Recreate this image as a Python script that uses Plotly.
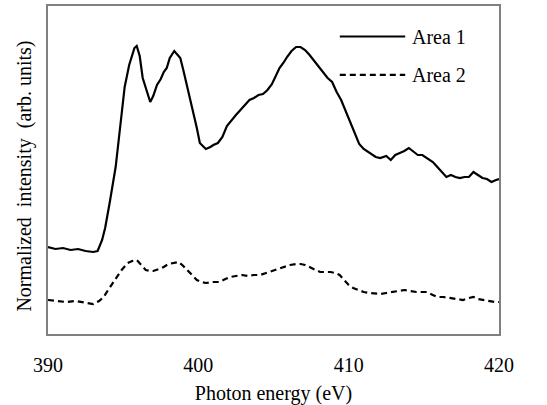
import plotly.graph_objects as go

# Photon energy (eV) and normalized intensity (arb. units)
energy_1 = [390.0, 390.5, 391.0, 391.5, 392.0, 392.5, 393.0, 393.3, 393.6, 393.8,
            394.1, 394.5, 394.8, 395.1, 395.4, 395.6, 395.75, 395.9, 396.1, 396.3,
            396.5, 396.8, 397.0, 397.25, 397.5, 397.7, 397.9, 398.1, 398.4, 398.6,
            398.8, 399.0, 399.2, 399.5, 399.7, 399.9, 400.1, 400.3, 400.5, 400.8,
            401.0, 401.3, 401.6, 401.9, 402.2, 402.5, 402.8, 403.1, 403.4, 403.7,
            404.0, 404.3, 404.6, 404.9, 405.1, 405.4, 405.7, 405.9, 406.2, 406.5,
            406.8, 407.1, 407.4, 407.7, 408.0, 408.3, 408.6, 408.9, 409.2, 409.5,
            409.8, 410.1, 410.4, 410.7, 411.0, 411.4, 411.8, 412.1, 412.5, 412.8,
            413.1, 413.4, 413.7, 414.0, 414.3, 414.6, 414.9, 415.2, 415.6, 415.9,
            416.2, 416.5, 416.8, 417.1, 417.4, 417.7, 418.0, 418.3, 418.6, 418.9,
            419.2, 419.5, 419.8, 420.0]
area_1 = [87, 85, 86, 84, 85, 83, 82, 83, 94, 106,
          131, 167, 207, 247, 269, 279, 286, 288, 278, 256,
          246, 232, 238, 249, 255, 262, 266, 276, 283, 280,
          276, 264, 251, 234, 221, 206, 191, 188, 185, 187,
          189, 191, 197, 208, 214, 219, 224, 229, 234, 236,
          239, 240, 244, 250, 257, 266, 272, 277, 283, 287,
          287, 284, 279, 273, 267, 261, 256, 252, 242, 234,
          223, 212, 201, 190, 185, 181, 177, 176, 178, 174,
          179, 181, 183, 186, 182, 179, 179, 176, 172, 167,
          162, 157, 159, 157, 156, 157, 157, 162, 159, 156,
          155, 152, 154, 155]

energy_2 = [390.0, 390.6, 391.2, 391.8, 392.3, 392.7, 393.0, 393.4, 393.7, 394.0,
            394.3, 394.6, 394.9, 395.3, 395.6, 395.9, 396.2, 396.5, 396.8, 397.0,
            397.4, 397.7, 398.0, 398.3, 398.7, 399.0, 399.3, 399.6, 399.9, 400.2,
            400.5, 401.0, 401.4, 401.8, 402.1, 402.5, 402.9, 403.3, 403.7, 404.1,
            404.5, 404.9, 405.2, 405.6, 406.1, 406.5, 406.8, 407.1, 407.4, 407.8,
            408.1, 408.5, 408.8, 409.1, 409.4, 409.7, 410.0, 410.3, 410.6, 411.0,
            411.4, 411.8, 412.1, 412.5, 413.0, 413.4, 413.7, 414.1, 414.5, 414.9,
            415.2, 415.6, 415.9, 416.3, 416.8, 417.2, 417.6, 418.0, 418.3, 418.6,
            418.9, 419.3, 419.7, 420.0]
area_2 = [34, 33, 32, 33, 32, 31, 30, 33, 37, 44,
          51, 58, 64, 71, 73, 74, 69, 64, 63, 63,
          65, 67, 70, 71, 72, 68, 63, 58, 54, 52,
          51, 52, 52, 55, 57, 58, 59, 58, 59, 59,
          61, 63, 65, 67, 69, 70, 70, 69, 67, 64,
          62, 62, 62, 61, 59, 54, 49, 46, 44, 42,
          41, 40, 40, 41, 42, 43, 44, 43, 42, 42,
          42, 39, 37, 37, 36, 35, 34, 36, 37, 35,
          34, 33, 32, 32]

x_ticks = [390, 400, 410, 420]
series_names = ["Area 1", "Area 2"]

FONT = "Liberation Serif, Times New Roman, serif"
FS = 20

fig = go.Figure()
fig.add_trace(go.Scatter(x=energy_1, y=area_1, mode="lines", name=series_names[0],
                         line=dict(color="black", width=2.2)))
fig.add_trace(go.Scatter(x=energy_2, y=area_2, mode="lines", name=series_names[1],
                         line=dict(color="black", width=2.2, dash="6px,4px")))

# hand-drawn legend: line samples plus labels
legend_rows = [(0.907, "solid"), (0.790, "6px,4px")]
for (yp, dash), name in zip(legend_rows, series_names):
    fig.add_shape(type="line", xref="paper", yref="paper",
                  x0=0.647, x1=0.792, y0=yp, y1=yp,
                  line=dict(color="black", width=2.2, dash=dash))
    fig.add_annotation(xref="paper", yref="paper", x=0.803, y=yp,
                       text=name, showarrow=False, xanchor="left", yanchor="middle",
                       font=dict(family=FONT, size=FS, color="black"))

fig.add_annotation(xref="paper", yref="paper", x=-0.051, y=0.483,
                   text="Normalized\u00a0\u00a0intensity\u00a0\u00a0(arb.\u00a0units)",
                   textangle=-90, showarrow=False, xanchor="center", yanchor="middle",
                   font=dict(family=FONT, size=FS, color="black"))

fig.update_layout(
    width=547, height=405,
    margin=dict(l=48, r=48, t=6, b=71),
    paper_bgcolor="white", plot_bgcolor="white",
    showlegend=False,
    font=dict(family=FONT, size=FS, color="black"),
)
fig.update_xaxes(range=[390, 420], tickvals=x_ticks, ticks="", ticklabelstandoff=12,
                 automargin=False,
                 showgrid=False, zeroline=False, showline=True, mirror=True,
                 linecolor="#808080", linewidth=1.5,
                 title=dict(text="Photon energy (eV)", standoff=12,
                            font=dict(family=FONT, size=FS, color="black")))
fig.update_yaxes(range=[0, 328], showticklabels=False, ticks="", automargin=False,
                 showgrid=False, zeroline=False, showline=True, mirror=True,
                 linecolor="#808080", linewidth=1.5)

fig.write_html("out.html")
